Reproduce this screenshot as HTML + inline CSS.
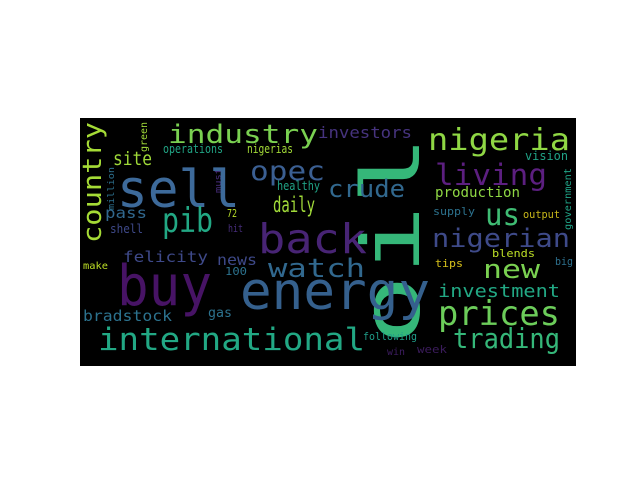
<!DOCTYPE html>
<html><head><meta charset="utf-8"><style>
html,body{margin:0;padding:0;background:#fff;width:640px;height:480px;overflow:hidden}
svg text{font-family:"DejaVu Sans Mono","Liberation Mono",monospace}
</style></head><body>
<svg width="640" height="480" viewBox="0 0 640 480">
<rect x="80" y="118" width="496" height="248" fill="#000"/>
<g>
<text transform="translate(419,345) rotate(-90)" font-size="80" fill="#35b779" textLength="210" lengthAdjust="spacingAndGlyphs">oil</text>
<text transform="translate(101,243) rotate(-90)" font-size="26" fill="#a5db36" textLength="121" lengthAdjust="spacingAndGlyphs">country</text>
<text transform="translate(147,152) rotate(-90)" font-size="10" fill="#a0da39" textLength="30" lengthAdjust="spacingAndGlyphs">green</text>
<text transform="translate(114,210) rotate(-90)" font-size="9" fill="#2d708e" textLength="43" lengthAdjust="spacingAndGlyphs">million</text>
<text transform="translate(221,193) rotate(-90)" font-size="9" fill="#472d7b" textLength="25" lengthAdjust="spacingAndGlyphs">must</text>
<text transform="translate(571,230) rotate(-90)" font-size="10" fill="#20a386" textLength="62" lengthAdjust="spacingAndGlyphs">government</text>
<text x="168" y="143" font-size="26" fill="#7ad151" textLength="150" lengthAdjust="spacingAndGlyphs">industry</text>
<text x="117" y="207" font-size="52" fill="#3d6a9a" textLength="123" lengthAdjust="spacingAndGlyphs">sell</text>
<text x="250" y="180" font-size="27" fill="#3b5f92" textLength="75" lengthAdjust="spacingAndGlyphs">opec</text>
<text x="113" y="165" font-size="19" fill="#9fd938" textLength="39" lengthAdjust="spacingAndGlyphs">site</text>
<text x="163" y="153" font-size="12" fill="#21a585" textLength="60" lengthAdjust="spacingAndGlyphs">operations</text>
<text x="247" y="153" font-size="12" fill="#a2da37" textLength="46" lengthAdjust="spacingAndGlyphs">nigerias</text>
<text x="318" y="138" font-size="16" fill="#46337e" textLength="94" lengthAdjust="spacingAndGlyphs">investors</text>
<text x="277" y="190" font-size="12" fill="#20a386" textLength="43" lengthAdjust="spacingAndGlyphs">healthy</text>
<text x="273" y="212" font-size="21" fill="#a0da39" textLength="42" lengthAdjust="spacingAndGlyphs">daily</text>
<text x="105" y="218" font-size="15" fill="#31688e" textLength="42" lengthAdjust="spacingAndGlyphs">pass</text>
<text x="227" y="217" font-size="11" fill="#b8de29" textLength="10" lengthAdjust="spacingAndGlyphs">72</text>
<text x="162" y="232" font-size="34" fill="#22a884" textLength="51" lengthAdjust="spacingAndGlyphs">pib</text>
<text x="110" y="233" font-size="12" fill="#3e4989" textLength="33" lengthAdjust="spacingAndGlyphs">shell</text>
<text x="228" y="232" font-size="11" fill="#472d7b" textLength="15" lengthAdjust="spacingAndGlyphs">hit</text>
<text x="258" y="253" font-size="41" fill="#482475" textLength="109" lengthAdjust="spacingAndGlyphs">back</text>
<text x="428" y="150" font-size="30" fill="#8fd744" textLength="142" lengthAdjust="spacingAndGlyphs">nigeria</text>
<text x="435" y="185" font-size="29" fill="#5c1f80" textLength="112" lengthAdjust="spacingAndGlyphs">living</text>
<text x="525" y="160" font-size="12" fill="#20a386" textLength="43" lengthAdjust="spacingAndGlyphs">vision</text>
<text x="328" y="197" font-size="24" fill="#31688e" textLength="77" lengthAdjust="spacingAndGlyphs">crude</text>
<text x="435" y="197" font-size="14" fill="#8fd744" textLength="85" lengthAdjust="spacingAndGlyphs">production</text>
<text x="433" y="215" font-size="11" fill="#2c728e" textLength="42" lengthAdjust="spacingAndGlyphs">supply</text>
<text x="485" y="225" font-size="30" fill="#3fbc73" textLength="35" lengthAdjust="spacingAndGlyphs">us</text>
<text x="523" y="218" font-size="11" fill="#c9b81a" textLength="37" lengthAdjust="spacingAndGlyphs">output</text>
<text x="432" y="247" font-size="26" fill="#3e4a89" textLength="138" lengthAdjust="spacingAndGlyphs">nigerian</text>
<text x="123" y="262" font-size="15" fill="#3e4989" textLength="85" lengthAdjust="spacingAndGlyphs">felicity</text>
<text x="217" y="265" font-size="15" fill="#3e4989" textLength="40" lengthAdjust="spacingAndGlyphs">news</text>
<text x="83" y="269" font-size="10" fill="#bddf26" textLength="25" lengthAdjust="spacingAndGlyphs">make</text>
<text x="225" y="275" font-size="11" fill="#2c728e" textLength="22" lengthAdjust="spacingAndGlyphs">100</text>
<text x="117" y="305" font-size="56" fill="#471365" textLength="95" lengthAdjust="spacingAndGlyphs">buy</text>
<text x="268" y="277" font-size="26" fill="#31688e" textLength="97" lengthAdjust="spacingAndGlyphs">watch</text>
<text x="240" y="309" font-size="52" fill="#35608d" textLength="190" lengthAdjust="spacingAndGlyphs">energy</text>
<text x="83" y="321" font-size="15" fill="#2c728e" textLength="89" lengthAdjust="spacingAndGlyphs">bradstock</text>
<text x="208" y="317" font-size="13" fill="#2c728e" textLength="24" lengthAdjust="spacingAndGlyphs">gas</text>
<text x="98" y="350" font-size="31" fill="#22a884" textLength="267" lengthAdjust="spacingAndGlyphs">international</text>
<text x="483" y="278" font-size="26" fill="#7ad151" textLength="57" lengthAdjust="spacingAndGlyphs">new</text>
<text x="492" y="257" font-size="11" fill="#bddf26" textLength="43" lengthAdjust="spacingAndGlyphs">blends</text>
<text x="435" y="267" font-size="11" fill="#d8c21b" textLength="28" lengthAdjust="spacingAndGlyphs">tips</text>
<text x="555" y="265" font-size="11" fill="#2d708e" textLength="18" lengthAdjust="spacingAndGlyphs">big</text>
<text x="438" y="297" font-size="18" fill="#22a884" textLength="122" lengthAdjust="spacingAndGlyphs">investment</text>
<text x="438" y="325" font-size="34" fill="#6ccd5a" textLength="122" lengthAdjust="spacingAndGlyphs">prices</text>
<text x="363" y="340" font-size="11" fill="#1f9e89" textLength="54" lengthAdjust="spacingAndGlyphs">following</text>
<text x="453" y="348" font-size="28" fill="#35b779" textLength="107" lengthAdjust="spacingAndGlyphs">trading</text>
<text x="417" y="353" font-size="11" fill="#3b1c5c" textLength="30" lengthAdjust="spacingAndGlyphs">week</text>
<text x="387" y="355" font-size="10" fill="#3e1d62" textLength="18" lengthAdjust="spacingAndGlyphs">win</text>
</g>
</svg>
</body></html>
